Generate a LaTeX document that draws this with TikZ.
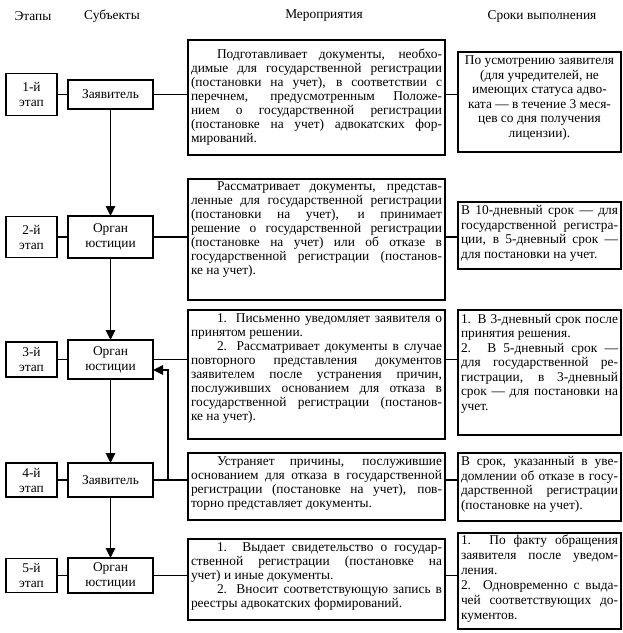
\documentclass[tikz,border=0pt]{standalone}
\usepackage{fontspec}
\setmainfont{Liberation Serif}
\usetikzlibrary{arrows.meta}
\newcommand{\jl}[1]{\makebox[\linewidth][s]{#1}\par}
\newcommand{\lastl}[1]{\mbox{#1}\par}
\newcommand{\ind}{\hspace*{26pt}}
\newcommand{\cellbox}[5]{\parbox[c][#2][t]{#1}{\fontsize{13.4}{#4}\selectfont\parindent=0pt\vspace*{#3}#5}}
\tikzset{
  ln/.style={line width=1.5pt},
  arr/.style={line width=1.5pt,-{Triangle[length=10pt,width=9.5pt]}},
  cell/.style={draw,line width=1.5pt,inner xsep=3pt,inner ysep=0pt,outer sep=0pt,anchor=north west},
  stagebox/.style={draw,line width=1.5pt,minimum width=51pt,inner sep=0pt,outer sep=0pt,align=center,font=\fontsize{13.4}{15}\selectfont},
  subjbox/.style={draw,line width=1.5pt,minimum width=85pt,inner sep=0pt,outer sep=0pt,align=center,font=\fontsize{13.4}{15}\selectfont},
  head/.style={font=\fontsize{13.4}{14}\selectfont}
}
\begin{document}
\begin{tikzpicture}[x=1pt,y=-1pt]
\useasboundingbox (0,0) rectangle (623,633);
% headers
\node[head] (h1) at (33,16) {Этапы};
\node[head] (h2) at (112,16) {Субъекты};
\node[head] (h3) at (324,16) {Мероприятия};
\node[head] (h4) at (542,16) {Сроки выполнения};
% stage boxes
\node[stagebox,minimum height=42pt] (st1) at (31.5,94.5) {1-й\\этап};
\node[stagebox,minimum height=41pt] (st2) at (31.5,237) {2-й\\этап};
\node[stagebox,minimum height=35pt] (st3) at (31.5,359.5) {3-й\\этап};
\node[stagebox,minimum height=34pt] (st4) at (31.5,480) {4-й\\этап};
\node[stagebox,minimum height=34pt] (st5) at (31.5,575.5) {5-й\\этап};
% subject boxes
\node[subjbox,minimum height=29pt] (s1) at (110.5,94.5) {Заявитель};
\node[subjbox,minimum height=42pt] (s2) at (110.5,237) {Орган\\юстиции};
\node[subjbox,minimum height=39pt] (s3) at (110.5,359.5) {Орган\\юстиции};
\node[subjbox,minimum height=34pt] (s4) at (110.5,480) {Заявитель};
\node[subjbox,minimum height=35pt] (s5) at (110.5,575.5) {Орган\\юстиции};
% actions
\node[cell] (a1) at (188,40) {\cellbox{251pt}{115pt}{9pt}{14}{%
\jl{\ind Подготавливает документы, необхо-}
\jl{димые для государственной регистрации}
\jl{(постановки на учет), в соответствии с}
\jl{перечнем, предусмотренным Положе-}
\jl{нием о государственной регистрации}
\jl{(постановке на учет) адвокатских фор-}
\lastl{мирований.}}};
\node[cell] (a2) at (188,179) {\cellbox{251pt}{121pt}{2.5pt}{14}{%
\jl{\ind Рассматривает документы, представ-}
\jl{ленные для государственной регистрации}
\jl{(постановки на учет), и принимает}
\jl{решение о государственной регистрации}
\jl{(постановке на учет) или об отказе в}
\jl{государственной регистрации (постанов-}
\lastl{ке на учет).}}};
\node[cell] (a3) at (188,310) {\cellbox{251pt}{129pt}{4pt}{14}{%
\jl{\ind 1. Письменно уведомляет заявителя о}
\lastl{принятом решении.}
\jl{\ind 2. Рассматривает документы в случае}
\jl{повторного представления документов}
\jl{заявителем после устранения причин,}
\jl{послуживших основанием для отказа в}
\jl{государственной регистрации (постанов-}
\lastl{ке на учет).}}};
\node[cell] (a4) at (188,453) {\cellbox{251pt}{67pt}{3.5pt}{14}{%
\jl{\ind Устраняет причины, послужившие}
\jl{основанием для отказа в государственной}
\jl{регистрации (постановке на учет), пов-}
\lastl{торно представляет документы.}}};
\node[cell] (a5) at (188,539) {\cellbox{251pt}{81pt}{4pt}{14}{%
\jl{\ind 1. Выдает свидетельство о государ-}
\jl{ственной регистрации (постановке на}
\lastl{учет) и иные документы.}
\jl{\ind 2. Вносит соответствующую запись в}
\lastl{реестры адвокатских формирований.}}};
% deadlines
\node[cell] (d1) at (458,52) {\cellbox{157pt}{100pt}{4pt}{14.5}{\centering
По усмотрению заявителя\\(для учредителей, не\\имеющих статуса адво-\\ката — в течение 3 меся-\\цев со дня получения\\лицензии).\par}};
\node[cell] (d2) at (458,202) {\cellbox{157pt}{67pt}{3.5pt}{14.5}{%
\jl{В 10-дневный срок — для}
\jl{государственной регистра-}
\jl{ции, в 5-дневный срок —}
\lastl{для постановки на учет.}}};
\node[cell] (d3) at (458,310) {\cellbox{157pt}{125pt}{4pt}{14.5}{%
\jl{1. В 3-дневный срок после}
\lastl{принятия решения.}
\jl{2. В 5-дневный срок —}
\jl{для государственной ре-}
\jl{гистрации, в 3-дневный}
\jl{срок — для постановки на}
\lastl{учет.}}};
\node[cell] (d4) at (458,453) {\cellbox{157pt}{68pt}{3.5pt}{14.5}{%
\jl{В срок, указанный в уве-}
\jl{домлении об отказе в госу-}
\jl{дарственной регистрации}
\lastl{(постановке на учет).}}};
\node[cell] (d5) at (458,533) {\cellbox{157pt}{96pt}{2pt}{15}{%
\jl{1. По факту обращения}
\jl{заявителя после уведом-}
\lastl{ления.}
\jl{2. Одновременно с выда-}
\jl{чей соответствующих до-}
\lastl{кументов.}}};
% connectors
\foreach \i in {1,...,5}{
  \draw[ln] (st\i.east) -- (s\i.west);
  \draw[ln] (s\i.east) -- (s\i.east -| a\i.west);
  \draw[ln] (s\i.east -| a\i.east) -- (s\i.east -| d\i.west);
}
\draw[arr] (s1.south) -- (s2.north);
\draw[arr] (s2.south) -- (s3.north);
\draw[arr] (s3.south) -- (s4.north);
\draw[arr] (s4.south) -- (s5.north);
\draw[arr] (s4.east) -- ++(15,0) |- ([yshift=-10.5pt]s3.east);
\end{tikzpicture}
\end{document}
